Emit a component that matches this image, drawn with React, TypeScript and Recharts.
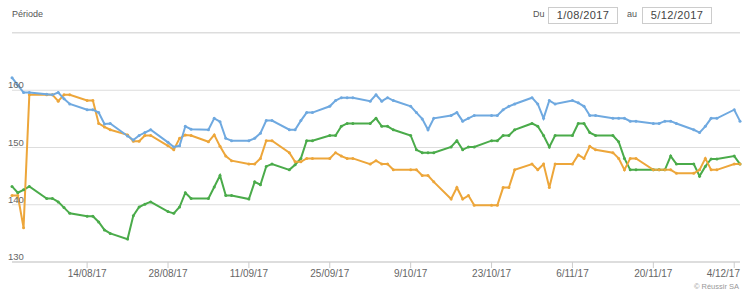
import { LineChart, Line, XAxis, YAxis, CartesianGrid } from "recharts";

// day offsets from 1/08/2017 (trading days)
const days = [
  0, 1, 2, 3, 6, 7, 8, 9, 10, 13, 14, 15, 16, 17, 20, 21, 22, 23, 24, 27, 28, 29, 30, 31,
  34, 35, 36, 37, 38, 41, 42, 43, 44, 45, 48, 49, 50, 51, 52, 55, 56, 57, 58, 59,
  62, 63, 64, 65, 66, 69, 70, 71, 72, 73, 76, 77, 78, 79, 80, 83, 84, 85, 86, 87,
  90, 91, 92, 93, 94, 97, 98, 99, 100, 101, 104, 105, 106, 107, 108, 111, 112, 113, 114, 115,
  118, 119, 120, 121, 122, 125, 126,
];

const blueValues = [
  162.2, 160.9, 159.6, 159.6, 159.3, 159.2, 159.6, 158.5, 157.6, 156.6, 156.6, 156.1, 154.1, 154.2,
  152.0, 151.3, 152.1, 152.6, 153.1, 150.9, 150.1, 150.3, 153.7, 153.2,
  153.1, 155.1, 154.5, 151.6, 151.2, 151.2, 151.6, 152.5, 154.7, 154.7, 153.1, 153.1, 154.7, 156.1, 156.1,
  157.2, 158.2, 158.7, 158.7, 158.7, 158.1, 159.2, 158.1, 158.7, 158.2, 157.2, 156.1, 155.0, 153.1, 155.1,
  155.6, 156.1, 154.6, 155.1, 155.6, 155.6, 155.6, 156.6, 157.2, 157.6, 158.7, 157.6, 155.1, 158.2, 157.6,
  158.2, 157.8, 157.2, 155.6, 155.6, 155.1, 155.1, 155.1, 154.6, 154.6, 154.2, 154.2, 154.6, 154.6, 154.2,
  153.1, 152.6, 153.7, 155.1, 155.1, 156.6, 154.6,
];

const orangeValues = [
  141.6, 141.6, 136.0, 159.2, 159.2, 159.2, 158.1, 159.2, 159.2, 158.2, 158.2, 154.2, 153.6, 153.1,
  152.2, 151.1, 151.1, 152.1, 152.1, 150.3, 149.6, 151.6, 152.2, 152.1,
  151.0, 152.2, 150.2, 148.5, 147.7, 147.1, 147.1, 148.1, 151.2, 151.2, 149.1, 147.5, 147.5, 148.1, 148.1,
  148.1, 149.1, 148.5, 148.1, 148.1, 147.1, 147.7, 147.1, 147.1, 146.1, 146.1, 146.1, 145.1, 145.1, 144.0,
  141.0, 143.0, 141.0, 141.6, 139.9, 139.9, 139.9, 143.0, 143.0, 146.1, 147.1, 146.1, 147.1, 143.0, 147.1,
  147.1, 148.7, 148.1, 150.2, 149.6, 149.1, 148.1, 146.1, 148.1, 148.1, 146.1, 146.1, 146.1, 146.1, 145.5,
  145.5, 146.1, 148.1, 146.1, 146.1, 147.1, 147.1,
];

const greenValues = [
  143.2, 142.1, 142.6, 143.2, 141.1, 141.1, 140.5, 139.5, 138.5, 138.0, 138.0, 137.0, 135.6, 135.0,
  134.0, 138.1, 139.6, 140.1, 140.5, 138.8, 138.5, 139.6, 142.1, 141.1,
  141.1, 143.1, 145.1, 141.6, 141.6, 141.0, 144.0, 143.5, 146.7, 147.1, 146.1, 147.0, 148.1, 151.2, 151.2,
  152.1, 152.1, 153.7, 154.2, 154.2, 154.2, 155.1, 153.7, 153.7, 153.1, 152.1, 149.6, 149.1, 149.1, 149.1,
  150.1, 151.2, 149.6, 150.1, 150.1, 151.2, 151.2, 152.1, 152.1, 153.1, 154.2, 153.7, 152.1, 150.1, 152.1,
  152.1, 154.2, 154.2, 152.6, 152.1, 152.1, 151.0, 148.1, 146.1, 146.1, 146.1, 146.1, 146.1, 148.5, 147.1,
  147.1, 145.0, 146.7, 148.0, 148.0, 148.5, 147.1,
];

const xTickDays = [13, 27, 41, 55, 69, 83, 97, 111, 125];
const xTickLabels = [
  "14/08/17", "28/08/17", "11/09/17", "25/09/17", "9/10/17",
  "23/10/17", "6/11/17", "20/11/17", "4/12/17",
];
const yTicks = [130, 140, 150, 160];

const data = days.map((d, i) => ({
  day: d,
  blue: blueValues[i],
  orange: orangeValues[i],
  green: greenValues[i],
}));

const font = "'Liberation Sans', Arial, sans-serif";
const BLUE = "#6fa9e0";
const ORANGE = "#eda63a";
const GREEN = "#4aab4a";

const renderYTick = (props: any) => {
  const { y, payload } = props;
  return (
    <text key={payload.value} x={8} y={y - 2} fontSize={9.5} fill="#666" fontFamily={font}>
      {payload.value}
    </text>
  );
};

const renderXTick = (props: any) => {
  const { x, y, payload } = props;
  const label = xTickLabels[xTickDays.indexOf(payload.value)] ?? "";
  // keep the last label inside the plot like the original
  const last = x > 720;
  return (
    <text
      key={payload.value}
      x={last ? 740 : x}
      y={y + 7}
      textAnchor={last ? "end" : "middle"}
      fontSize={10}
      fill="#666"
      fontFamily={font}
    >
      {label}
    </text>
  );
};

const boxStyle: React.CSSProperties = {
  position: "absolute",
  top: 7,
  height: 15,
  width: 68,
  border: "1px solid #ccc",
  fontSize: 11,
  color: "#444",
  textAlign: "center",
  lineHeight: "15px",
  letterSpacing: 0.4,
};

export default function App() {
  return (
    <div
      style={{
        position: "absolute",
        left: 0,
        top: 0,
        width: 747,
        height: 292,
        background: "#fff",
        fontFamily: font,
      }}
    >
      <div style={{ position: "absolute", left: 12, top: 9, fontSize: 9, color: "#555" }}>Période</div>
      <div style={{ position: "absolute", left: 533, top: 9, fontSize: 9, color: "#555" }}>Du</div>
      <div style={{ ...boxStyle, left: 548 }}>1/08/2017</div>
      <div style={{ position: "absolute", left: 627, top: 9, fontSize: 9, color: "#555" }}>au</div>
      <div style={{ ...boxStyle, left: 642 }}>5/12/2017</div>
      <div
        style={{ position: "absolute", left: 12, top: 32, width: 728, height: 1, background: "#ddd" }}
      />

      <div style={{ position: "absolute", left: 0, top: 0 }}>
        <LineChart width={747} height={292} data={data} margin={{ top: 33, right: 7, left: 11, bottom: 0 }}>
          <CartesianGrid vertical={false} stroke="#ddd" />
          <XAxis
            dataKey="day"
            type="number"
            domain={[0, 126]}
            ticks={xTickDays}
            interval={0}
            height={30}
            tick={renderXTick}
            stroke="#ccc"
            tickSize={6}
          />
          <YAxis
            type="number"
            domain={[130, 170]}
            ticks={yTicks}
            interval={0}
            width={1}
            axisLine={false}
            tickLine={false}
            tick={renderYTick}
          />
          <Line
            dataKey="green"
            stroke={GREEN}
            strokeWidth={2}
            dot={{ r: 1.5, fill: GREEN, stroke: GREEN, strokeWidth: 0 }}
            isAnimationActive={false}
          />
          <Line
            dataKey="orange"
            stroke={ORANGE}
            strokeWidth={2}
            dot={{ r: 1.5, fill: ORANGE, stroke: ORANGE, strokeWidth: 0 }}
            isAnimationActive={false}
          />
          <Line
            dataKey="blue"
            stroke={BLUE}
            strokeWidth={2}
            dot={{ r: 1.5, fill: BLUE, stroke: BLUE, strokeWidth: 0 }}
            isAnimationActive={false}
          />
        </LineChart>
      </div>

      <div
        style={{
          position: "absolute",
          right: 8,
          top: 282,
          fontSize: 7.5,
          color: "#999",
        }}
      >
        © Réussir SA
      </div>
    </div>
  );
}
